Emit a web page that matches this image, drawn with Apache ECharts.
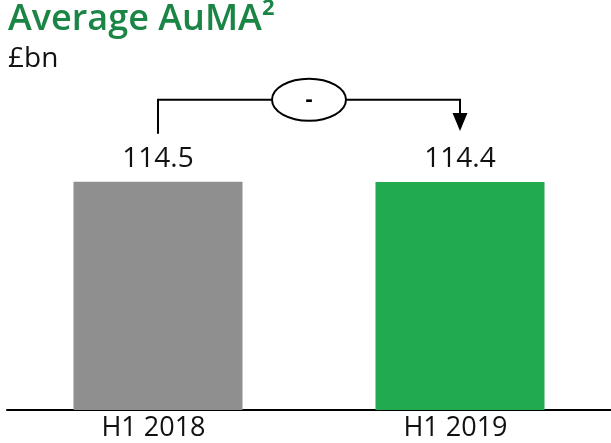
<!DOCTYPE html>
<html><head><meta charset="utf-8">
<script src="https://cdn.jsdelivr.net/npm/echarts@6/dist/echarts.min.js"></script>
<style>html,body{margin:0;padding:0;background:#fff}#c{width:611px;height:443px}</style>
</head><body><div id="c"></div>
<script>
const categories = ['H1 2018', 'H1 2019'];
const values = [114.5, 114.4];
const barColors = ['#8f8f8f', '#22aa4e'];
const changeLabel = '-';
const titleText = 'Average AuMA²';
const unitText = '£bn';

const FONT = '"Open Sans", "Noto Sans", sans-serif';
const chart = echarts.init(document.getElementById('c'), null, {renderer: 'canvas'});
chart.setOption({
  animation: false,
  title: [
    {text: titleText, left: 3, top: 2, padding: [0, 5, 0, 5], textStyle: {fontFamily: FONT, fontSize: 36, fontWeight: 600, color: '#1b8546'}},
    {text: unitText, left: 3, top: 40, textStyle: {fontFamily: FONT, fontSize: 28, fontWeight: 'normal', color: '#111'}}
  ],
  grid: {left: 7, right: -2, top: 111, bottom: 33},
  xAxis: {
    type: 'category', data: categories,
    axisLine: {show: true, lineStyle: {color: '#000', width: 2}}, axisTick: {show: false},
    axisLabel: {fontFamily: FONT, fontSize: 27, color: '#111', margin: 5, padding: [0, 9, 0, 0]}
  },
  yAxis: {type: 'value', min: 0, max: 150, show: false, splitLine: {show: false}},
  series: [{
    type: 'bar', barWidth: 169,
    data: values.map((v, i) => ({value: v, itemStyle: {color: barColors[i]}})),
    label: {show: true, position: 'top', distance: 9, fontFamily: FONT, fontSize: 28, color: '#111',
      formatter: p => p.value.toFixed(1)}
  }]
});

const p0 = chart.convertToPixel({xAxisIndex: 0, yAxisIndex: 0}, [0, values[0]]);
const p1 = chart.convertToPixel({xAxisIndex: 0, yAxisIndex: 0}, [1, values[1]]);
const lx = p0[0], rx = p1[0];
const yTop = p0[1] - 82;
const ecx = (lx + rx) / 2, erx = 37, ery = 21;
const line = {stroke: '#000', lineWidth: 2, fill: null};
chart.setOption({
  graphic: [
    {type: 'polyline', shape: {points: [[lx, p0[1] - 48], [lx, yTop], [ecx - erx, yTop]]}, style: line},
    {type: 'polyline', shape: {points: [[ecx + erx, yTop], [rx, yTop], [rx, p1[1] - 68]]}, style: line},
    {type: 'polygon', shape: {points: [[rx - 7.5, p1[1] - 69], [rx + 7.5, p1[1] - 69], [rx, p1[1] - 51]]}, style: {fill: '#000'}},
    {type: 'ellipse', shape: {cx: ecx, cy: yTop, rx: erx, ry: ery}, style: {stroke: '#000', lineWidth: 2, fill: '#fff'}},
    {type: 'text', x: ecx, y: yTop, style: {text: changeLabel, fontFamily: FONT, fontSize: 22, fontWeight: 'bold', fill: '#000', align: 'center', verticalAlign: 'middle'}}
  ]
});
</script></body></html>
